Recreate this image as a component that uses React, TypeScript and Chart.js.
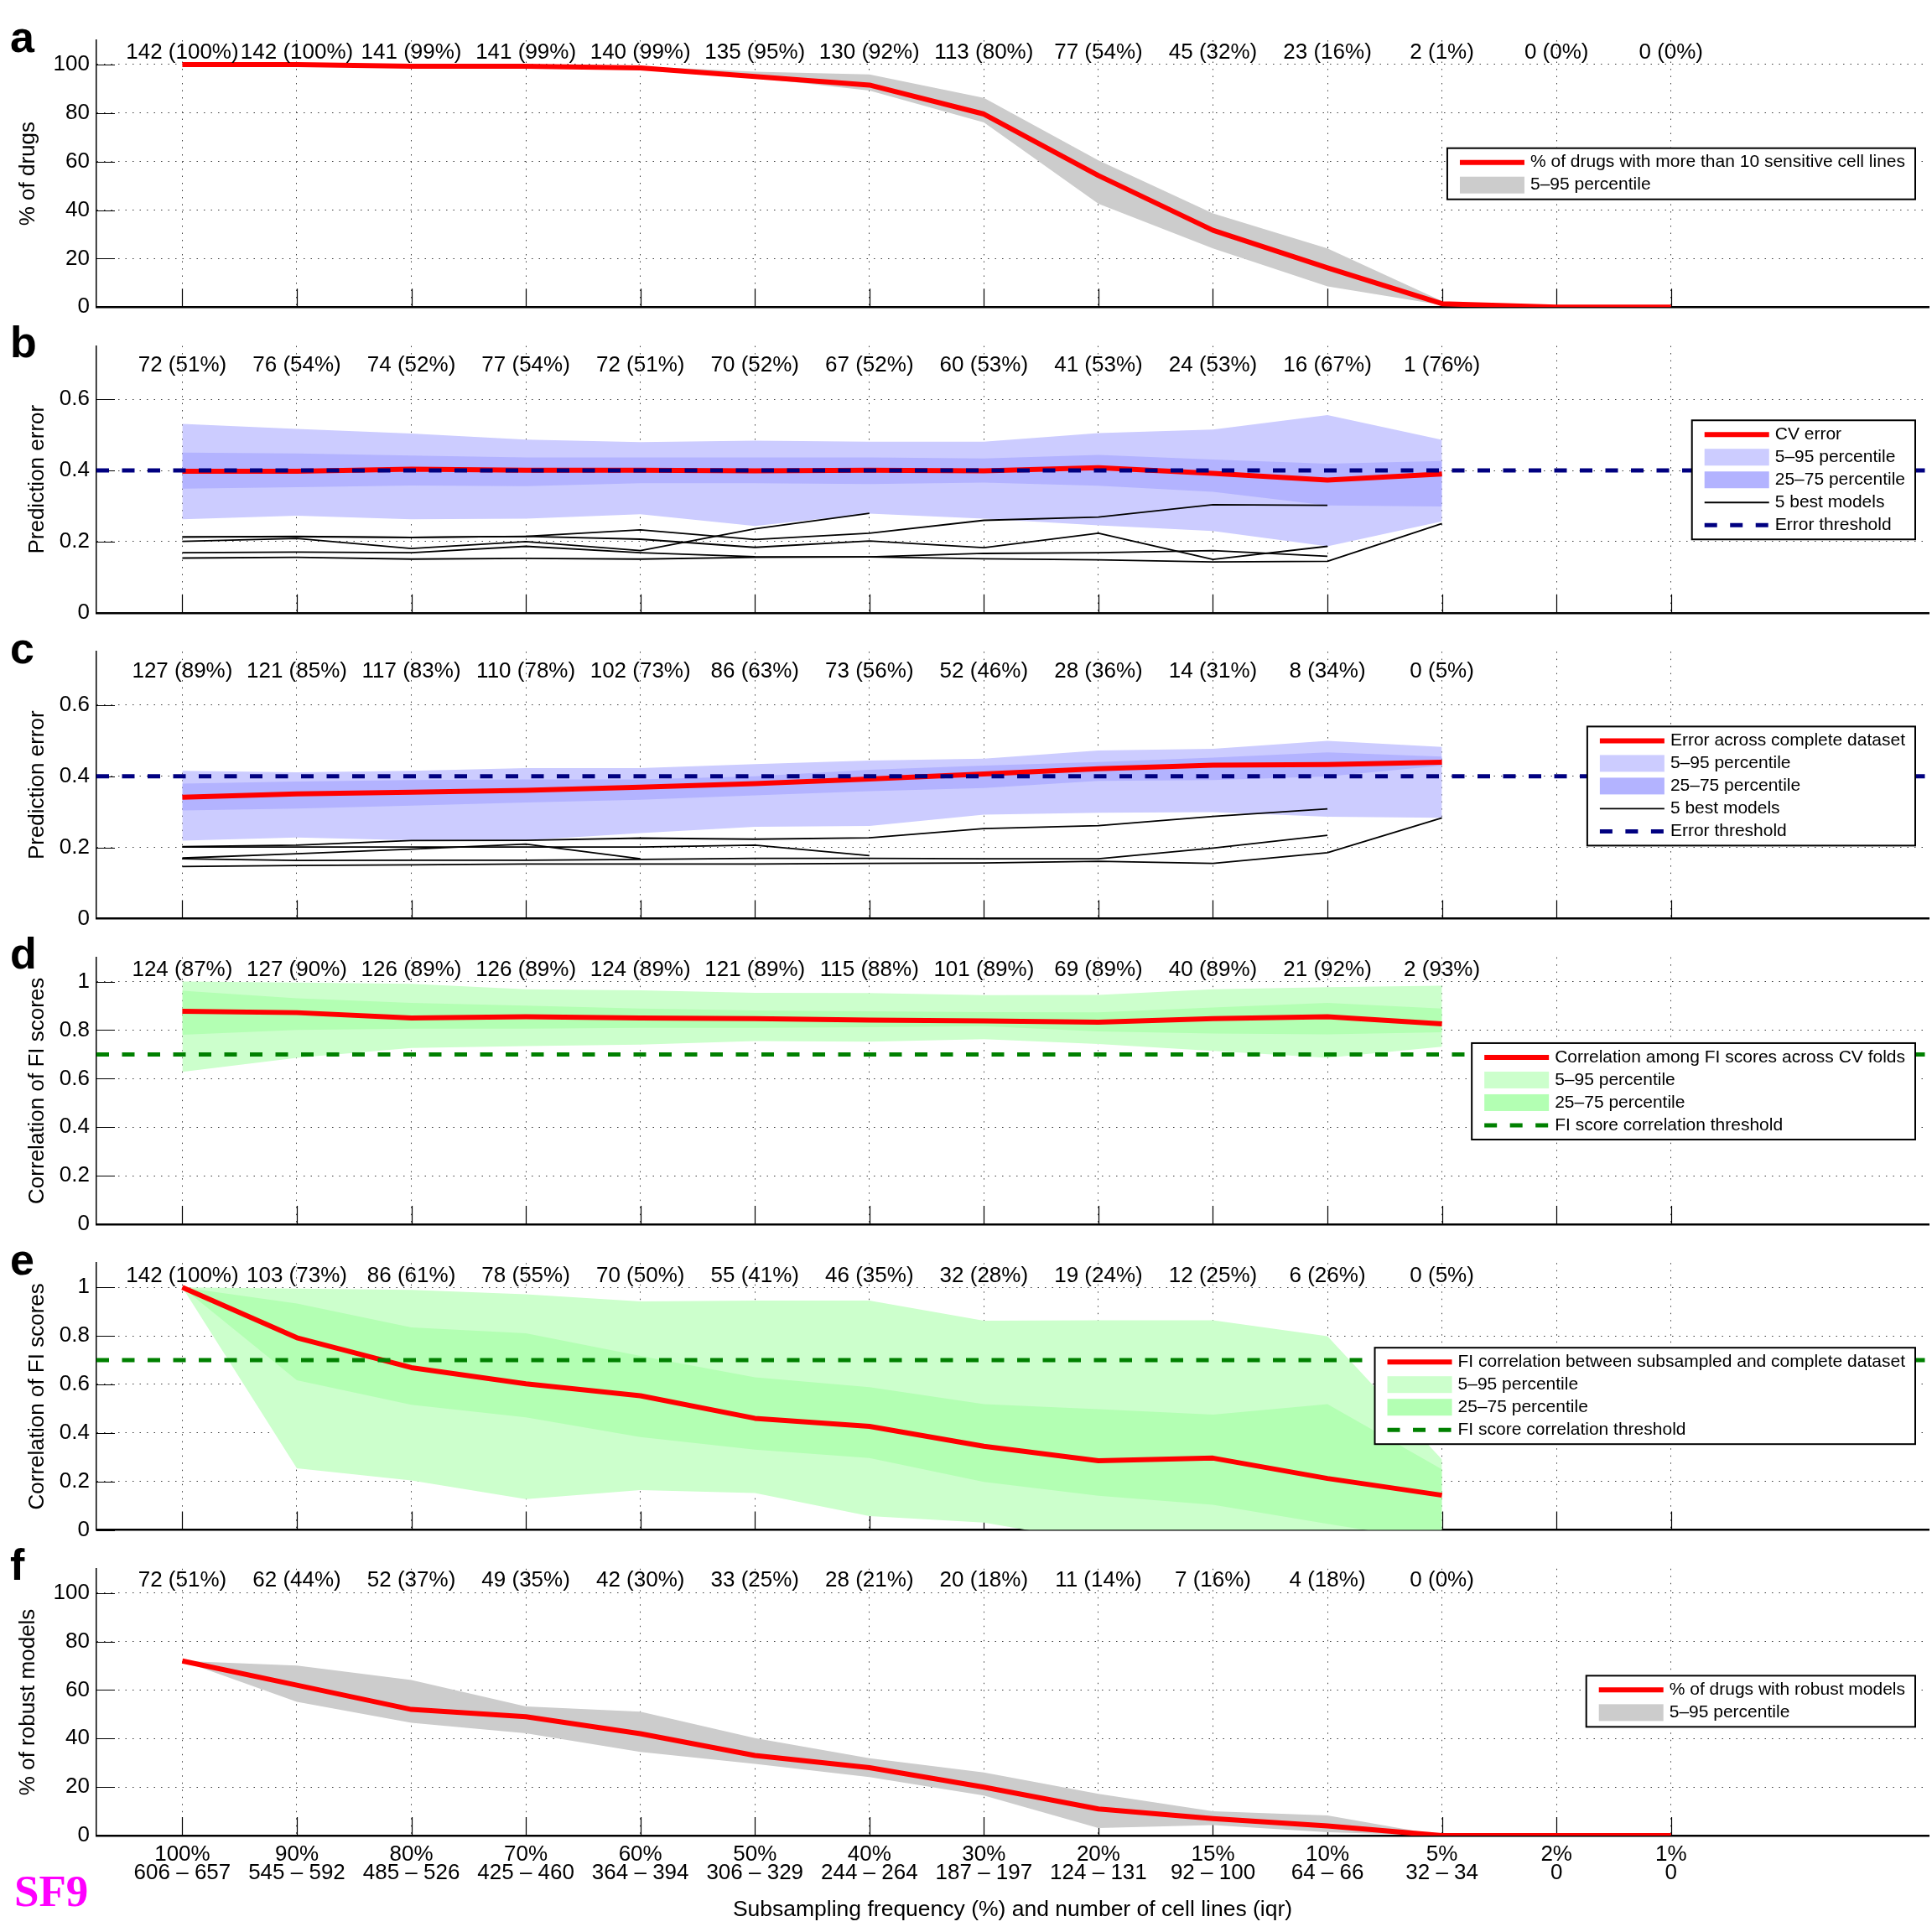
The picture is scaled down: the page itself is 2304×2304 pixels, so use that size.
import React, { useEffect, useRef } from 'react';
import { Chart, registerables } from 'chart.js';

Chart.register(...registerables);

const FONT = "'Liberation Sans', Arial, Helvetica, sans-serif";
Chart.defaults.font.family = FONT;
Chart.defaults.color = '#000';

// ---------- shared axis categories / tick labels ----------
const FREQUENCY = ['100%', '90%', '80%', '70%', '60%', '50%', '40%', '30%', '20%', '15%', '10%', '5%', '2%', '1%'];
const CELL_LINES_IQR = ['606 – 657', '545 – 592', '485 – 526', '425 – 460', '364 – 394', '306 – 329', '244 – 264', '187 – 197', '124 – 131', '92 – 100', '64 – 66', '32 – 34', '0', '0'];
const X_TITLE = 'Subsampling frequency (%) and number of cell lines (iqr)';
const Y_TICKS_PERCENT = [0, 20, 40, 60, 80, 100];
const Y_TICKS_ERROR = [0, 0.2, 0.4, 0.6];
const Y_TICKS_CORR = [0, 0.2, 0.4, 0.6, 0.8, 1];

const ERROR_THRESHOLD = 0.4;
const FI_THRESHOLD = 0.7;

// ---------- a: drugs with more than 10 sensitive cell lines ----------
const A_TOTAL_DRUGS = 142;
const A_SENSITIVE = [142, 142, 141, 141, 140, 135, 130, 113, 77, 45, 23, 2, 0, 0];
const A_P05 = [100, 100, 99, 99, 97.8, 94.5, 89.3, 76.1, 42.6, 24.2, 8.6, 0.9];
const A_P95 = [100, 100, 100, 99.6, 99.3, 97.0, 95.9, 86.2, 60.5, 38.6, 24.2, 2.5];

// ---------- b: CV error ----------
const B_DRUGS = [72, 76, 74, 77, 72, 70, 67, 60, 41, 24, 16, 1];
const B_PCT = [51, 54, 52, 54, 51, 52, 52, 53, 53, 53, 67, 76];
const B_CV_ERROR = [0.398, 0.398, 0.404, 0.401, 0.401, 0.399, 0.401, 0.399, 0.408, 0.392, 0.373, 0.39];
const B_P05 = [0.263, 0.273, 0.263, 0.265, 0.277, 0.244, 0.279, 0.265, 0.246, 0.23, 0.187, 0.257];
const B_P95 = [0.531, 0.517, 0.504, 0.487, 0.48, 0.484, 0.481, 0.481, 0.505, 0.515, 0.556, 0.486];
const B_P25 = [0.349, 0.353, 0.358, 0.356, 0.364, 0.364, 0.362, 0.366, 0.357, 0.34, 0.302, 0.299];
const B_P75 = [0.45, 0.448, 0.442, 0.437, 0.437, 0.437, 0.437, 0.434, 0.444, 0.431, 0.419, 0.427];
const B_BEST_1 = [0.213, 0.214, 0.212, 0.215, 0.233, 0.206, 0.224, 0.26, 0.269, 0.304, 0.302];
const B_BEST_2 = [0.201, 0.209, 0.181, 0.2, 0.175, 0.236, 0.28];
const B_BEST_3 = [0.213, 0.215, 0.212, 0.215, 0.207, 0.184, 0.202, 0.183, 0.224, 0.15, 0.187];
const B_BEST_4 = [0.169, 0.171, 0.169, 0.187, 0.169, 0.158, 0.157, 0.167, 0.169, 0.175, 0.159];
const B_BEST_5 = [0.154, 0.156, 0.151, 0.153, 0.151, 0.156, 0.157, 0.152, 0.149, 0.143, 0.145, 0.251];

// ---------- c: error across complete dataset ----------
const C_DRUGS = [127, 121, 117, 110, 102, 86, 73, 52, 28, 14, 8, 0];
const C_PCT = [89, 85, 83, 78, 73, 63, 56, 46, 36, 31, 34, 5];
const C_ERROR = [0.341, 0.35, 0.355, 0.36, 0.369, 0.379, 0.392, 0.406, 0.421, 0.431, 0.433, 0.439];
const C_P05 = [0.219, 0.228, 0.22, 0.22, 0.24, 0.258, 0.26, 0.292, 0.297, 0.299, 0.286, 0.283];
const C_P95 = [0.415, 0.411, 0.415, 0.423, 0.423, 0.434, 0.444, 0.449, 0.472, 0.477, 0.499, 0.482];
const C_P25 = [0.304, 0.309, 0.317, 0.326, 0.334, 0.346, 0.358, 0.367, 0.387, 0.389, 0.399, 0.43];
const C_P75 = [0.379, 0.385, 0.389, 0.391, 0.391, 0.4, 0.418, 0.43, 0.44, 0.452, 0.467, 0.455];
const C_BEST_1 = [0.202, 0.206, 0.219, 0.22, 0.226, 0.223, 0.227, 0.253, 0.261, 0.287, 0.308];
const C_BEST_2 = [0.201, 0.201, 0.201, 0.201, 0.201, 0.206, 0.177];
const C_BEST_3 = [0.17, 0.182, 0.195, 0.209, 0.168];
const C_BEST_4 = [0.168, 0.163, 0.164, 0.164, 0.166, 0.169, 0.169, 0.168, 0.168, 0.198, 0.234];
const C_BEST_5 = [0.146, 0.149, 0.151, 0.153, 0.153, 0.153, 0.155, 0.156, 0.161, 0.155, 0.185, 0.283];

// ---------- d: FI score correlation across CV folds ----------
const D_DRUGS = [124, 127, 126, 126, 124, 121, 115, 101, 69, 40, 21, 2];
const D_PCT = [87, 90, 89, 89, 89, 89, 88, 89, 89, 89, 92, 93];
const D_CORR = [0.878, 0.872, 0.85, 0.855, 0.85, 0.847, 0.841, 0.838, 0.833, 0.847, 0.855, 0.826];
const D_P05 = [0.628, 0.686, 0.726, 0.734, 0.74, 0.755, 0.752, 0.763, 0.743, 0.714, 0.686, 0.732];
const D_P95 = [1.0, 0.996, 0.991, 0.968, 0.964, 0.954, 0.953, 0.944, 0.945, 0.968, 0.977, 0.983];
const D_P25 = [0.781, 0.801, 0.806, 0.806, 0.809, 0.809, 0.812, 0.816, 0.795, 0.786, 0.783, 0.791];
const D_P75 = [0.962, 0.931, 0.912, 0.901, 0.889, 0.881, 0.878, 0.874, 0.873, 0.893, 0.912, 0.889];

// ---------- e: FI correlation subsampled vs complete ----------
const E_DRUGS = [142, 103, 86, 78, 70, 55, 46, 32, 19, 12, 6, 0];
const E_PCT = [100, 73, 61, 55, 50, 41, 35, 28, 24, 25, 26, 5];
const E_CORR = [1.0, 0.792, 0.669, 0.602, 0.553, 0.46, 0.427, 0.345, 0.285, 0.296, 0.212, 0.143];
const E_P05 = [1.0, 0.254, 0.204, 0.127, 0.164, 0.152, 0.057, 0.03, -0.05, -0.07, -0.1, -0.12];
const E_P95 = [1.0, 0.994, 0.989, 0.971, 0.942, 0.945, 0.945, 0.862, 0.864, 0.864, 0.798, 0.29];
const E_P25 = [1.0, 0.617, 0.516, 0.464, 0.383, 0.331, 0.296, 0.198, 0.141, 0.104, 0.025, -0.05];
const E_P75 = [1.0, 0.933, 0.835, 0.81, 0.717, 0.629, 0.588, 0.518, 0.498, 0.475, 0.518, 0.25];

// ---------- f: robust models ----------
const F_ROBUST = [72, 62, 52, 49, 42, 33, 28, 20, 11, 7, 4, 0, 0, 0];
const F_PCT = [51, 44, 37, 35, 30, 25, 21, 18, 14, 16, 18, 0];
const F_P05 = [72, 55.1, 46.5, 42.2, 34.5, 29.6, 24.1, 16.5, 3.1, 4.3, 1.4, 0];
const F_P95 = [72, 70.1, 64.1, 53.2, 51.1, 40.2, 31.9, 26.0, 17.2, 10.0, 8.3, 0];

// ---------- styling ----------
const RED = '#ff0000';
const GRAY_BAND = '#cccccc';
const BLUE_LIGHT = '#ccccff';
const BLUE_DARK = '#b3b3ff';
const GREEN_LIGHT = '#ccffcc';
const GREEN_DARK = '#b3ffb3';
const NAVY = '#000080';
const DARK_GREEN = '#008000';
const BLACK = '#000000';
const GRID = 'rgba(40,40,40,0.9)';
const TEXT_SIZE = 26;

// ---------- page geometry ----------
const PAGE = 2304;
const PLOT_LEFT = 115;
const PLOT_RIGHT_PAD = 4;
const PLOT_H = 318.3;
const FIRST_TOP = 48;
const PANEL_STEP = 364.55;
const HEAD = 48;
const X_MIN = -0.75;
const X_MAX = 15.25;
const TICK_LEN = 22;
const LEGEND_FONT = 21;

const pts = (values: number[]) => values.map((y, i) => ({ x: i, y }));

function lineDs(label: string, values: number[], color: string, width: number, order: number, rank?: number) {
  return {
    label,
    data: pts(values),
    borderColor: color,
    backgroundColor: color,
    borderWidth: width,
    borderJoinStyle: 'round',
    pointRadius: 0,
    pointHoverRadius: 0,
    fill: false,
    tension: 0,
    order,
    legendRank: rank,
  };
}

function thresholdDs(label: string, value: number, color: string, rank: number) {
  return {
    label,
    data: [{ x: X_MIN, y: value }, { x: X_MAX, y: value }],
    borderColor: color,
    backgroundColor: color,
    borderWidth: 5,
    borderDash: [15, 15.5],
    pointRadius: 0,
    pointHoverRadius: 0,
    fill: false,
    order: 0,
    legendRank: rank,
  };
}

function bandDs(label: string, lo: number[], hi: number[], color: string, order: number, rank: number) {
  return [
    { label: '', data: pts(lo), borderWidth: 0, borderColor: 'rgba(0,0,0,0)', pointRadius: 0, pointHoverRadius: 0, fill: false, order },
    { label, data: pts(hi), borderWidth: 0, borderColor: 'rgba(0,0,0,0)', backgroundColor: color, pointRadius: 0, pointHoverRadius: 0, fill: '-1', order, legendRank: rank },
  ];
}

const countLabels = (n: number[], p: number[]) => p.map((pc, i) => `${n[i]} (${pc}%)`);

interface PanelSpec {
  letter: string;
  yTitle: string;
  yMax: number;
  yTicks: number[];
  titleInset: number;
  labels: string[];
  labelY: number;
  legendTop: number;
  datasets: any[];
  tag?: string;
}

const PANELS: PanelSpec[] = [
  {
    letter: 'a',
    yTitle: '% of drugs',
    yMax: 110,
    yTicks: Y_TICKS_PERCENT,
    titleInset: 18.5,
    labels: A_SENSITIVE.map((n) => `${n} (${Math.round((100 * n) / A_TOTAL_DRUGS)}%)`),
    labelY: 105,
    legendTop: 128.7,
    datasets: [
      lineDs('% of drugs with more than 10 sensitive cell lines', A_SENSITIVE.map((n) => (100 * n) / A_TOTAL_DRUGS), RED, 6, 1, 0),
      ...bandDs('5–95 percentile', A_P05, A_P95, GRAY_BAND, 4, 1),
    ],
  },
  {
    letter: 'b',
    yTitle: 'Prediction error',
    yMax: 0.75,
    yTicks: Y_TICKS_ERROR,
    titleInset: 29.5,
    labels: countLabels(B_DRUGS, B_PCT),
    labelY: 0.695,
    legendTop: 88.7,
    datasets: [
      thresholdDs('Error threshold', ERROR_THRESHOLD, NAVY, 4),
      lineDs('CV error', B_CV_ERROR, RED, 6, 1, 0),
      lineDs('5 best models', B_BEST_1, BLACK, 1.8, 2, 3),
      lineDs('', B_BEST_2, BLACK, 1.8, 2),
      lineDs('', B_BEST_3, BLACK, 1.8, 2),
      lineDs('', B_BEST_4, BLACK, 1.8, 2),
      lineDs('', B_BEST_5, BLACK, 1.8, 2),
      ...bandDs('25–75 percentile', B_P25, B_P75, BLUE_DARK, 3, 2),
      ...bandDs('5–95 percentile', B_P05, B_P95, BLUE_LIGHT, 4, 1),
    ],
  },
  {
    letter: 'c',
    yTitle: 'Prediction error',
    yMax: 0.75,
    yTicks: Y_TICKS_ERROR,
    titleInset: 29.5,
    labels: countLabels(C_DRUGS, C_PCT),
    labelY: 0.695,
    legendTop: 89.3,
    datasets: [
      thresholdDs('Error threshold', ERROR_THRESHOLD, NAVY, 4),
      lineDs('Error across complete dataset', C_ERROR, RED, 6, 1, 0),
      lineDs('5 best models', C_BEST_1, BLACK, 1.8, 2, 3),
      lineDs('', C_BEST_2, BLACK, 1.8, 2),
      lineDs('', C_BEST_3, BLACK, 1.8, 2),
      lineDs('', C_BEST_4, BLACK, 1.8, 2),
      lineDs('', C_BEST_5, BLACK, 1.8, 2),
      ...bandDs('25–75 percentile', C_P25, C_P75, BLUE_DARK, 3, 2),
      ...bandDs('5–95 percentile', C_P05, C_P95, BLUE_LIGHT, 4, 1),
    ],
  },
  {
    letter: 'd',
    yTitle: 'Correlation of FI scores',
    yMax: 1.1,
    yTicks: Y_TICKS_CORR,
    titleInset: 29.5,
    labels: countLabels(D_DRUGS, D_PCT),
    labelY: 1.047,
    legendTop: 102.3,
    datasets: [
      thresholdDs('FI score correlation threshold', FI_THRESHOLD, DARK_GREEN, 3),
      lineDs('Correlation among FI scores across CV folds', D_CORR, RED, 6, 1, 0),
      ...bandDs('25–75 percentile', D_P25, D_P75, GREEN_DARK, 3, 2),
      ...bandDs('5–95 percentile', D_P05, D_P95, GREEN_LIGHT, 4, 1),
    ],
  },
  {
    letter: 'e',
    yTitle: 'Correlation of FI scores',
    yMax: 1.1,
    yTicks: Y_TICKS_CORR,
    titleInset: 29.5,
    labels: countLabels(E_DRUGS, E_PCT),
    labelY: 1.047,
    legendTop: 101,
    datasets: [
      thresholdDs('FI score correlation threshold', FI_THRESHOLD, DARK_GREEN, 3),
      lineDs('FI correlation between subsampled and complete dataset', E_CORR, RED, 6, 1, 0),
      ...bandDs('25–75 percentile', E_P25, E_P75, GREEN_DARK, 3, 2),
      ...bandDs('5–95 percentile', E_P05, E_P95, GREEN_LIGHT, 4, 1),
    ],
  },
  {
    letter: 'f',
    yTitle: '% of robust models',
    yMax: 110,
    yTicks: Y_TICKS_PERCENT,
    titleInset: 18.5,
    labels: countLabels(F_ROBUST, F_PCT),
    labelY: 105,
    legendTop: 127.6,
    tag: 'SF9',
    datasets: [
      lineDs('% of drugs with robust models', F_ROBUST, RED, 6, 1, 0),
      ...bandDs('5–95 percentile', F_P05, F_P95, GRAY_BAND, 4, 1),
    ],
  },
];

function panelGeometry(k: number) {
  const chartTop = FIRST_TOP + k * PANEL_STEP;
  const canvasTop = Math.floor(chartTop - HEAD);
  const padTop = chartTop - canvasTop;
  const isLast = k === PANELS.length - 1;
  const canvasH = isLast ? PAGE - canvasTop : Math.ceil(padTop + PLOT_H + 30);
  const xAxisH = canvasH - padTop - PLOT_H;
  return { canvasTop, canvasH, padTop, xAxisH, isLast };
}

// Draws MATLAB-style inward ticks, the count labels, the boxed legend and the panel letter.
function decorPlugin(p: PanelSpec) {
  return {
    id: `panelDecor_${p.letter}`,
    beforeDatasetsDraw(chart: any) {
      const { ctx, chartArea, scales } = chart;
      const xs = scales.x;
      const ys = scales.y;
      ctx.save();
      ctx.strokeStyle = '#000';
      ctx.lineWidth = 1.2;
      ctx.beginPath();
      for (const t of xs.ticks) {
        const px = Math.round(xs.getPixelForValue(t.value)) + 0.5;
        ctx.moveTo(px, chartArea.bottom);
        ctx.lineTo(px, chartArea.bottom - TICK_LEN);
      }
      for (const t of ys.ticks) {
        const py = Math.round(ys.getPixelForValue(t.value)) + 0.5;
        ctx.moveTo(chartArea.left, py);
        ctx.lineTo(chartArea.left + TICK_LEN, py);
      }
      ctx.stroke();
      ctx.restore();
    },
    afterDatasetsDraw(chart: any) {
      const { ctx, scales } = chart;
      ctx.save();
      ctx.fillStyle = '#000';
      ctx.font = `${TEXT_SIZE}px ${FONT}`;
      ctx.textAlign = 'center';
      ctx.textBaseline = 'middle';
      const py = scales.y.getPixelForValue(p.labelY);
      p.labels.forEach((txt, i) => {
        ctx.fillText(txt, scales.x.getPixelForValue(i), py);
      });
      ctx.restore();
    },
    afterDraw(chart: any) {
      const { ctx, chartArea } = chart;
      const items = chart.data.datasets
        .filter((d: any) => d.legendRank !== undefined && d.legendRank !== null)
        .sort((a: any, b: any) => a.legendRank - b.legendRank);
      ctx.save();
      ctx.font = `${LEGEND_FONT}px ${FONT}`;
      const textW = Math.max(...items.map((d: any) => ctx.measureText(d.label).width));
      const boxW = 99 + textW + 12;
      const boxH = 34 + (items.length - 1) * 27;
      const right = chartArea.right - 16;
      const left = right - boxW;
      const top = chartArea.top + p.legendTop;
      ctx.fillStyle = '#fff';
      ctx.fillRect(left, top, boxW, boxH);
      ctx.strokeStyle = '#000';
      ctx.lineWidth = 2;
      ctx.strokeRect(left, top, boxW, boxH);
      items.forEach((d: any, k: number) => {
        const cy = top + 17 + k * 27;
        if (d.fill !== false && d.fill !== undefined) {
          ctx.fillStyle = d.backgroundColor;
          ctx.fillRect(left + 15, cy - 10, 77, 20);
        } else {
          ctx.save();
          ctx.strokeStyle = d.borderColor;
          ctx.lineWidth = d.borderWidth;
          ctx.setLineDash(d.borderDash || []);
          ctx.beginPath();
          ctx.moveTo(left + 15, cy);
          ctx.lineTo(left + 92, cy);
          ctx.stroke();
          ctx.restore();
        }
        ctx.fillStyle = '#000';
        ctx.textAlign = 'left';
        ctx.textBaseline = 'middle';
        ctx.fillText(d.label, left + 99, cy);
      });

      // panel letter
      ctx.font = `bold 52px ${FONT}`;
      ctx.fillStyle = '#000';
      ctx.textAlign = 'left';
      ctx.textBaseline = 'alphabetic';
      ctx.fillText(p.letter, 12, chartArea.top + 13.5);

      if (p.tag) {
        ctx.font = `bold 53px 'Liberation Serif', 'Times New Roman', serif`;
        ctx.fillStyle = '#ff00ff';
        ctx.fillText(p.tag, 17, chartArea.bottom + 84);
      }
      ctx.restore();
    },
  };
}

function buildConfig(p: PanelSpec, k: number) {
  const g = panelGeometry(k);
  return {
    type: 'line',
    data: { datasets: p.datasets },
    options: {
      responsive: false,
      animation: false,
      devicePixelRatio: 1,
      events: [],
      layout: { padding: { top: g.padTop, left: 0, right: PLOT_RIGHT_PAD, bottom: 0 } },
      plugins: { legend: { display: false }, tooltip: { enabled: false } },
      scales: {
        x: {
          type: 'linear',
          min: X_MIN,
          max: X_MAX,
          bounds: 'data',
          afterBuildTicks: (s: any) => {
            s.ticks = FREQUENCY.map((_, i) => ({ value: i }));
          },
          afterFit: (s: any) => {
            s.height = g.xAxisH;
          },
          grid: { color: GRID, lineWidth: 1, drawTicks: false },
          border: { display: true, color: '#000', width: 2.5, dash: [1.5, 7] },
          ticks: {
            display: g.isLast,
            autoSkip: false,
            maxRotation: 0,
            minRotation: 0,
            padding: 11.3,
            font: { size: TEXT_SIZE, lineHeight: '22.3px' },
            callback: (v: any) => [FREQUENCY[v], CELL_LINES_IQR[v]],
          },
          title: { display: g.isLast, text: X_TITLE, font: { size: 26.5 }, padding: { top: 0, bottom: 10.6 } },
        },
        y: {
          type: 'linear',
          min: 0,
          max: p.yMax,
          afterBuildTicks: (s: any) => {
            s.ticks = p.yTicks.map((v) => ({ value: v }));
          },
          afterFit: (s: any) => {
            s.width = PLOT_LEFT;
          },
          grid: {
            color: (c: any) => (c.tick && c.tick.value === 0 ? 'rgba(0,0,0,0)' : GRID),
            lineWidth: 1,
            drawTicks: false,
          },
          border: { display: true, color: '#000', width: 1.5, dash: [1.5, 7] },
          ticks: { padding: 8, font: { size: TEXT_SIZE }, callback: (v: any) => String(v) },
          title: { display: true, text: p.yTitle, font: { size: 26 }, padding: { top: p.titleInset, bottom: 0 } },
        },
      },
    },
    plugins: [decorPlugin(p)],
  };
}

function PanelChart({ spec, index }: { spec: PanelSpec; index: number }) {
  const ref = useRef<HTMLCanvasElement | null>(null);
  const g = panelGeometry(index);
  useEffect(() => {
    if (!ref.current) return;
    const chart = new Chart(ref.current, buildConfig(spec, index) as any);
    return () => chart.destroy();
  }, [spec, index]);
  return (
    <canvas
      ref={ref}
      width={PAGE}
      height={g.canvasH}
      style={{ position: 'absolute', left: 0, top: g.canvasTop, width: PAGE, height: g.canvasH, display: 'block' }}
    />
  );
}

export default function App() {
  return (
    <div style={{ position: 'fixed', left: 0, top: 0, width: PAGE, height: PAGE, background: '#fff', overflow: 'hidden' }}>
      {PANELS.map((s, i) => (
        <PanelChart key={s.letter} spec={s} index={i} />
      ))}
    </div>
  );
}
